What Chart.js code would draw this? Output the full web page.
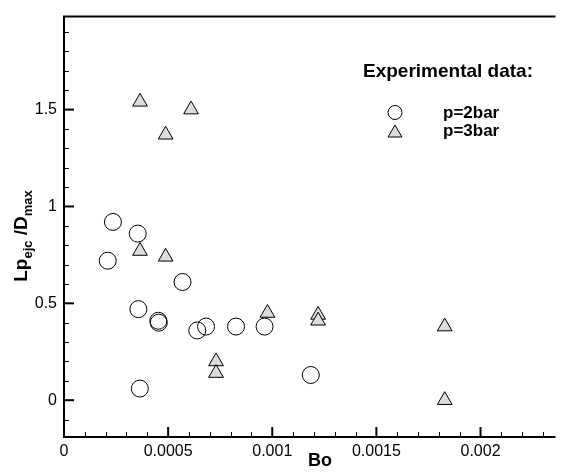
<!DOCTYPE html>
<html>
<head>
<meta charset="utf-8">
<script src="https://cdn.jsdelivr.net/npm/chart.js@4.4.0/dist/chart.umd.min.js"></script>
<style>
  html, body { margin: 0; padding: 0; background: #fff; overflow: hidden; }
  canvas { display: block; }
</style>
</head>
<body>
<canvas id="chart" width="565" height="472"></canvas>
<script>
// Data
const p2Bo = [0.00021, 0.000235, 0.000354, 0.000357, 0.000364, 0.000453, 0.000455, 0.000569, 0.00064, 0.000682, 0.000826, 0.000963, 0.001185];
const p2Lp = [0.72, 0.92, 0.86, 0.47, 0.06, 0.41, 0.40, 0.61, 0.36, 0.38, 0.38, 0.38, 0.13];

const p3Bo = [0.000365, 0.000488, 0.00061, 0.000365, 0.000488, 0.00073, 0.00073, 0.000977, 0.00122, 0.00122, 0.001828, 0.001828];
const p3Lp = [1.54, 1.37, 1.50, 0.77, 0.74, 0.20, 0.14, 0.45, 0.44, 0.41, 0.38, 0.00];

const xTicks = [0, 0.0005, 0.001, 0.0015, 0.002];
const xTickLabels = ['0', '0.0005', '0.001', '0.0015', '0.002'];
const yTicks = [0, 0.5, 1, 1.5];
const yTickLabels = ['0', '0.5', '1', '1.5'];

const seriesNames = ['p=2bar', 'p=3bar'];
const legendTitle = 'Experimental data:';

const FONT = '"Liberation Sans", Arial, sans-serif';

function toPoints(xs, ys) {
  return xs.map((x, i) => ({ x: x, y: ys[i] }));
}

// Frame, inward ticks, axis titles and legend
const framePlugin = {
  id: 'frame',
  afterDraw(chart) {
    const ctx = chart.ctx;
    const a = chart.chartArea;
    const xs = chart.scales.x;
    const ys = chart.scales.y;
    ctx.save();
    ctx.strokeStyle = '#000';

    // frame: left, top, bottom (right side is cut off)
    ctx.lineWidth = 2;
    ctx.beginPath();
    ctx.moveTo(a.right, a.top);
    ctx.lineTo(a.left, a.top);
    ctx.lineTo(a.left, a.bottom);
    ctx.lineTo(a.right, a.bottom);
    ctx.stroke();

    // major ticks
    xTicks.forEach(v => {
      const px = xs.getPixelForValue(v);
      ctx.beginPath();
      ctx.moveTo(px, a.bottom);
      ctx.lineTo(px, a.bottom - 10);
      ctx.stroke();
    });
    yTicks.forEach(v => {
      const py = ys.getPixelForValue(v);
      ctx.beginPath();
      ctx.moveTo(a.left, py);
      ctx.lineTo(a.left + 10, py);
      ctx.stroke();
    });

    // minor ticks
    ctx.lineWidth = 1;
    for (let i = 1; i <= 23; i++) {
      if (i % 5 === 0) continue;
      const px = Math.round(xs.getPixelForValue(i * 0.0001)) + 0.5;
      ctx.beginPath();
      ctx.moveTo(px, a.bottom);
      ctx.lineTo(px, a.bottom - 5);
      ctx.stroke();
    }
    for (let i = -1; i <= 19; i++) {
      if (i % 5 === 0) continue;
      const py = Math.round(ys.getPixelForValue(i * 0.1)) + 0.5;
      ctx.beginPath();
      ctx.moveTo(a.left, py);
      ctx.lineTo(a.left + 5, py);
      ctx.stroke();
    }

    // x axis title
    ctx.fillStyle = '#000';
    ctx.font = 'bold 18px ' + FONT;
    ctx.textAlign = 'center';
    ctx.textBaseline = 'alphabetic';
    ctx.fillText('Bo', 320, 466);

    // y axis title with subscripts, rotated
    ctx.save();
    ctx.translate(27, 236);
    ctx.rotate(-Math.PI / 2);
    const parts = [
      { t: 'Lp', sub: false },
      { t: 'ejc', sub: true },
      { t: ' /D', sub: false },
      { t: 'max', sub: true }
    ];
    const mainFont = 'bold 19px ' + FONT;
    const subFont = 'bold 13px ' + FONT;
    let total = 0;
    parts.forEach(p => {
      ctx.font = p.sub ? subFont : mainFont;
      p.w = ctx.measureText(p.t).width;
      total += p.w;
    });
    let cx = -total / 2;
    ctx.textAlign = 'left';
    parts.forEach(p => {
      ctx.font = p.sub ? subFont : mainFont;
      ctx.fillText(p.t, cx, p.sub ? 5 : 0);
      cx += p.w;
    });
    ctx.restore();

    // legend
    ctx.font = 'bold 19px ' + FONT;
    ctx.textAlign = 'left';
    ctx.fillText(legendTitle, 363, 77);

    ctx.font = 'bold 17px ' + FONT;
    ctx.textBaseline = 'middle';
    ctx.fillText(seriesNames[0], 443, 113);
    ctx.fillText(seriesNames[1], 443, 131);

    ctx.lineWidth = 1;
    ctx.beginPath();
    ctx.arc(395, 112.5, 7, 0, Math.PI * 2);
    ctx.stroke();

    const r = 8;
    const tx = 395, ty = 133;
    ctx.beginPath();
    ctx.moveTo(tx, ty - r);
    ctx.lineTo(tx + r * Math.sin(2 * Math.PI / 3), ty + r / 2);
    ctx.lineTo(tx - r * Math.sin(2 * Math.PI / 3), ty + r / 2);
    ctx.closePath();
    ctx.fillStyle = '#dcdcdc';
    ctx.fill();
    ctx.stroke();

    ctx.restore();
  }
};

const ctx = document.getElementById('chart').getContext('2d');
new Chart(ctx, {
  type: 'scatter',
  data: {
    datasets: [
      {
        label: seriesNames[0],
        data: toPoints(p2Bo, p2Lp),
        pointStyle: 'circle',
        pointRadius: 8.5,
        backgroundColor: 'rgba(0,0,0,0)',
        borderColor: '#000',
        borderWidth: 1
      },
      {
        label: seriesNames[1],
        data: toPoints(p3Bo, p3Lp),
        pointStyle: 'triangle',
        pointRadius: 8.5,
        backgroundColor: '#dcdcdc',
        borderColor: '#000',
        borderWidth: 1
      }
    ]
  },
  options: {
    responsive: false,
    animation: false,
    layout: { padding: { top: 13, right: 0, left: 0, bottom: 0 } },
    plugins: {
      legend: { display: false },
      tooltip: { enabled: false }
    },
    scales: {
      x: {
        type: 'linear',
        min: 0,
        max: 0.00236,
        grid: { display: false, drawTicks: false },
        border: { display: false },
        afterBuildTicks: s => { s.ticks = xTicks.map(v => ({ value: v })); },
        afterFit: s => { s.height = 35; },
        ticks: {
          padding: 5,
          color: '#000',
          font: { family: FONT, size: 16 },
          maxRotation: 0,
          autoSkip: false,
          callback: (v, i) => xTickLabels[xTicks.indexOf(v)] ?? ''
        }
      },
      y: {
        type: 'linear',
        min: -0.19,
        max: 1.98,
        grid: { display: false, drawTicks: false },
        border: { display: false },
        afterBuildTicks: s => { s.ticks = yTicks.map(v => ({ value: v })); },
        afterFit: s => { s.width = 64; },
        ticks: {
          padding: 7,
          color: '#000',
          font: { family: FONT, size: 16 },
          autoSkip: false,
          callback: (v, i) => yTickLabels[yTicks.indexOf(v)] ?? ''
        }
      }
    }
  },
  plugins: [framePlugin]
});
</script>
</body>
</html>
